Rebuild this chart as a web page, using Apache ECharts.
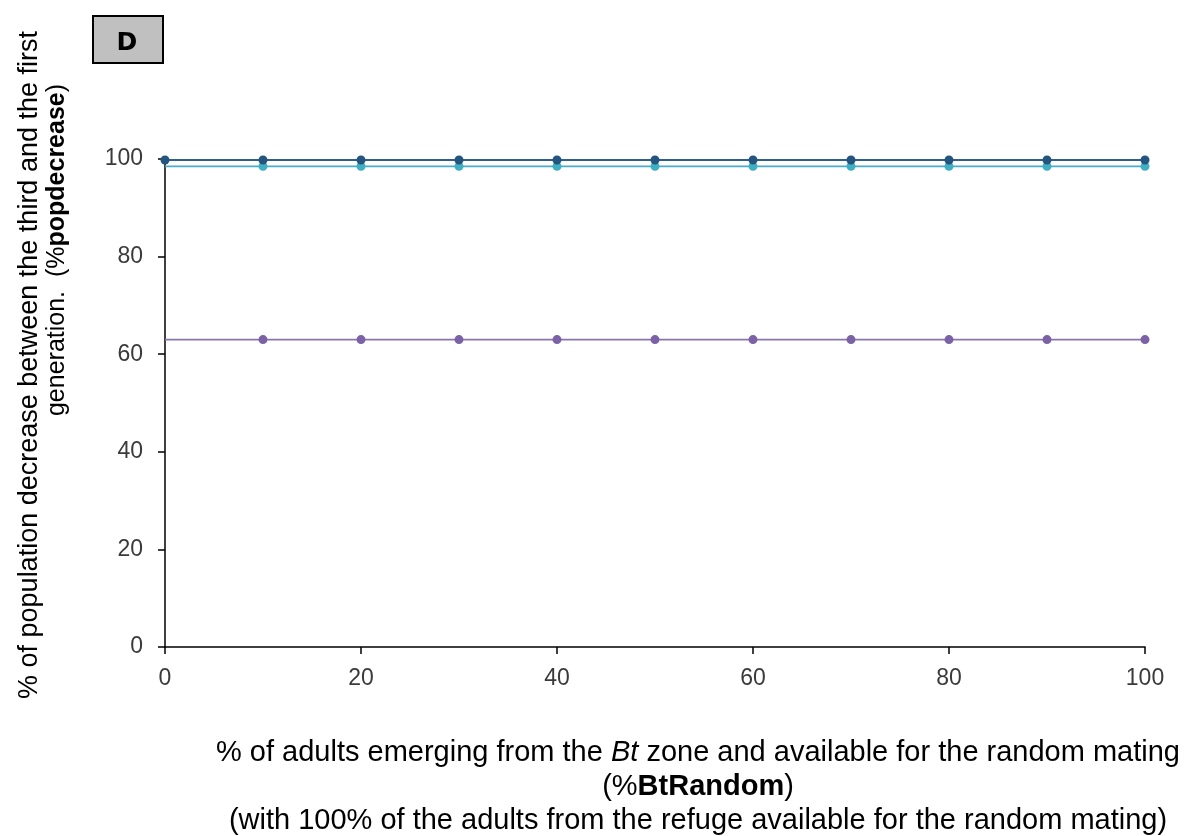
<!DOCTYPE html>
<html>
<head>
<meta charset="utf-8">
<script src="https://cdn.jsdelivr.net/npm/echarts@6/dist/echarts.min.js"></script>
<style>
  html, body { margin: 0; padding: 0; background: #fff; }
  #chart { width: 1187px; height: 836px; }
</style>
</head>
<body>
<div id="chart"></div>
<script>
// % of adults from the Bt zone available for random mating
const btRandom = [0, 10, 20, 30, 40, 50, 60, 70, 80, 90, 100];
// % population decrease between the third and first generation
const seriesTop = [99.8, 99.8, 99.8, 99.8, 99.8, 99.8, 99.8, 99.8, 99.8, 99.8, 99.8];
const seriesMid = [98.5, 98.5, 98.5, 98.5, 98.5, 98.5, 98.5, 98.5, 98.5, 98.5, 98.5];
const seriesLow = [63.0, 63.0, 63.0, 63.0, 63.0, 63.0, 63.0, 63.0, 63.0, 63.0, 63.0];
const xTicks = [0, 20, 40, 60, 80, 100];
const yTicks = [0, 20, 40, 60, 80, 100];

const FONT = '"Liberation Sans", Arial, sans-serif';

function pairs(vals) { return btRandom.map((x, i) => [x, vals[i]]); }

// first marker hidden on the two lower lines
const skipFirst = (v, p) => (p.dataIndex === 0 ? 0 : 9);

const chart = echarts.init(document.getElementById('chart'));
chart.setOption({
  animation: false,
  backgroundColor: '#ffffff',
  grid: { left: 165, right: 42, top: 159, bottom: 189 },
  xAxis: {
    type: 'value', min: 0, max: 100, interval: 20,
    axisLine: { lineStyle: { color: '#000', width: 1.5 } },
    axisTick: { show: true, length: 7, lineStyle: { color: '#000', width: 1.5 } },
    axisLabel: { color: '#3a3a3a', fontFamily: FONT, fontSize: 23, margin: 20,
      formatter: v => (xTicks.includes(v) ? String(v) : '') },
    splitLine: { show: false }
  },
  yAxis: {
    type: 'value', min: 0, max: 100, interval: 20,
    axisLine: { show: true, lineStyle: { color: '#000', width: 1.5 } },
    axisTick: { show: true, length: 7, lineStyle: { color: '#000', width: 1.5 } },
    axisLabel: { color: '#3a3a3a', fontFamily: FONT, fontSize: 23, margin: 22,
      formatter: v => (yTicks.includes(v) ? String(v) : '') },
    splitLine: { show: false }
  },
  series: [
    { type: 'line', data: pairs(seriesLow), symbol: 'circle', symbolSize: skipFirst,
      lineStyle: { color: '#8A76AE', width: 1.8 }, itemStyle: { color: '#7B62A6' }, z: 2 },
    { type: 'line', data: pairs(seriesMid), symbol: 'circle', symbolSize: skipFirst,
      lineStyle: { color: '#4BACC6', width: 1.8 }, itemStyle: { color: '#3FAFC4' }, z: 3 },
    { type: 'line', data: pairs(seriesTop), symbol: 'circle', symbolSize: 9,
      lineStyle: { color: '#2E5F8C', width: 1.8 }, itemStyle: { color: '#24557F' }, z: 4 }
  ],
  graphic: [
    { type: 'rect', left: 92, top: 15, shape: { width: 70, height: 47 },
      style: { fill: '#c0c0c0', stroke: '#000', lineWidth: 2 } },
    { type: 'text', x: 127, y: 43,
      style: { text: 'D', align: 'center', verticalAlign: 'middle',
        font: 'bold 25px "DejaVu Sans", Verdana, sans-serif', fill: '#000' } },
    // y-axis title, first line
    { type: 'text', x: 30, y: 365, rotation: Math.PI / 2,
      style: {
        text: '% of population decrease between the third and the first',
        align: 'center', verticalAlign: 'middle', fill: '#000',
        font: '27px ' + FONT
      } },
    // y-axis title, second line
    { type: 'text', x: 57, y: 250, rotation: Math.PI / 2,
      style: {
        text: '{n|generation.  (%}{b|popdecrease}{n|)}',
        align: 'center', verticalAlign: 'middle', fill: '#000',
        font: '25px ' + FONT,
        rich: {
          n: { font: '25px ' + FONT, fill: '#000' },
          b: { font: 'bold 25px ' + FONT, fill: '#000' }
        }
      } },
    // x-axis title
    { type: 'text', x: 698, y: 787,
      style: {
        text: '{n|% of adults emerging from the }{i|Bt}{n| zone and available for the random mating}\n{n|(%}{b|BtRandom}{n|)}\n{n|(with 100% of the adults from the refuge available for the random mating)}',
        align: 'center', verticalAlign: 'middle', fill: '#000',
        font: '29px ' + FONT, lineHeight: 34,
        rich: {
          n: { font: '29px ' + FONT, fill: '#000', lineHeight: 34 },
          i: { font: 'italic 29px ' + FONT, fill: '#000', lineHeight: 34 },
          b: { font: 'bold 29px ' + FONT, fill: '#000', lineHeight: 34 }
        }
      } }
  ]
});
</script>
</body>
</html>
